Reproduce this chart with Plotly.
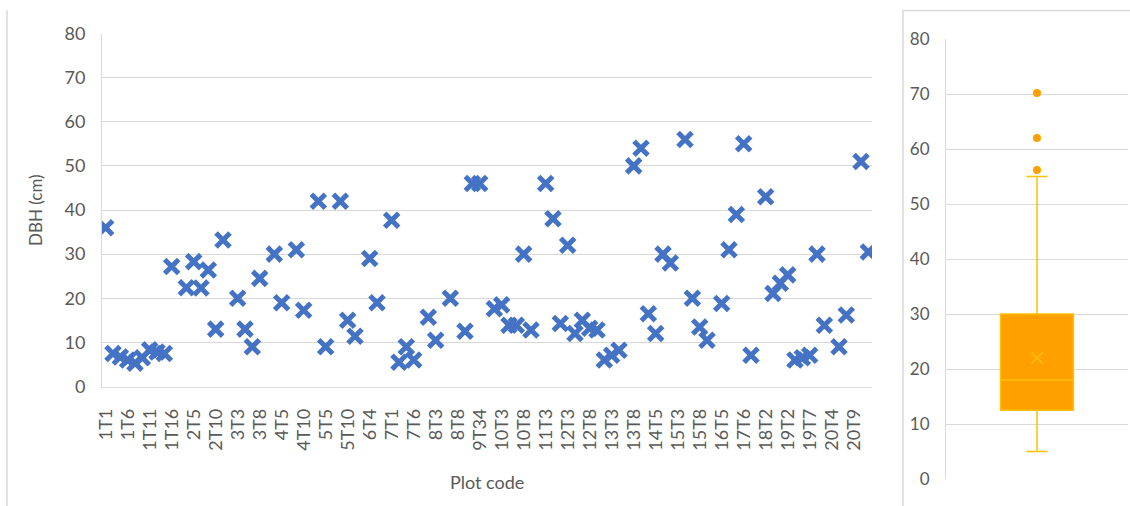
import plotly.graph_objects as go

# ---------------- data ----------------
plot_codes = [
    "1T1", "1T2", "1T4", "1T6", "1T7", "1T9", "1T11", "1T12", "1T14", "1T16",
    "2T1", "2T3", "2T5", "2T6", "2T8", "2T10", "2T12", "3T1", "3T3", "3T4",
    "3T6", "3T8", "4T1", "4T3", "4T5", "4T6", "4T8", "4T10", "5T1", "5T3",
    "5T5", "5T6", "5T8", "5T10", "6T1", "6T2", "6T4", "6T6", "6T8", "7T1",
    "7T2", "7T4", "7T6", "8T1", "8T2", "8T3", "8T4", "8T6", "8T8", "9T1",
    "9T2", "9T34", "10T1", "10T2", "10T3", "10T4", "10T6", "10T8", "11T1", "11T2",
    "11T3", "11T5", "12T1", "12T3", "12T4", "12T6", "12T8", "13T1", "13T2", "13T3",
    "13T4", "13T6", "13T8", "14T1", "14T3", "14T5", "14T7", "15T1", "15T3", "15T4",
    "15T6", "15T8", "16T1", "16T3", "16T5", "17T1", "17T4", "17T6", "17T7", "18T1",
    "18T2", "18T4", "19T1", "19T2", "19T3", "19T5", "19T7", "20T1", "20T2", "20T4",
    "20T5", "20T7", "20T9", "20T10", "20T11",
]

# DBH per plot code (None = no measurement shown)
dbh_cm = [
    36.0, 7.5, 6.7, 6.0, 5.3, 6.5, 8.3, 7.8, 7.5, 27.2,
    None, 22.4, 28.3, 22.3, 26.4, 13.0, 33.2, None, 20.0, 13.0,
    9.0, 24.5, None, 30.0, 19.0, None, 31.0, 17.3, None, 42.0,
    9.0, None, 42.0, 15.0, 11.4, None, 29.0, 19.0, None, 37.7,
    5.5, 9.0, 6.0, None, 15.7, 10.5, None, 20.0, None, 12.5,
    46.0, 46.0, None, 17.6, 18.5, 13.9, 13.9, 30.0, 12.8, None,
    46.0, 38.0, 14.3, 32.0, 12.0, 15.0, 13.2, 12.8, 6.0, 7.1,
    8.2, None, 50.0, 54.0, 16.5, 12.0, 30.0, 28.0, None, 56.0,
    20.0, 13.5, 10.5, None, 18.8, 31.0, 39.0, 55.0, 7.1, None,
    43.0, 21.1, 23.4, 25.3, 6.0, 6.5, 7.1, 30.0, 13.9, None,
    9.0, 16.2, None, 51.0, 30.5,
]

tick_labels = [
    "1T1", "1T6", "1T11", "1T16", "2T5", "2T10", "3T3", "3T8", "4T5", "4T10",
    "5T5", "5T10", "6T4", "7T1", "7T6", "8T3", "8T8", "9T34", "10T3", "10T8",
    "11T3", "12T3", "12T8", "13T3", "13T8", "14T5", "15T3", "15T8", "16T5", "17T6",
    "18T2", "19T2", "19T7", "20T4", "20T9",
]

# box-and-whisker summary (right panel)
box_q1 = 12.5
box_median = 18.0
box_q3 = 30.0
box_low = 5.0
box_high = 55.0
box_mean = 22.0
box_outliers = [56.2, 62.0, 70.2]

y_ticks = [0, 10, 20, 30, 40, 50, 60, 70, 80]

# ---------------- styling ----------------
W, H = 1130, 506
BLUE = "#4472C4"
GRID = "#D9D9D9"
TXT = "#595959"
FONT = "Lato"
ORANGE = "#FFA000"
GOLD = "#FFC000"


def px_x(v):
    return v / W


def px_y(v):
    return 1 - v / H


fig = go.Figure()

fig.add_trace(go.Scatter(
    x=plot_codes, y=dbh_cm, mode="markers",
    marker=dict(symbol="x-thin-open", size=14, color=BLUE,
                line=dict(color=BLUE, width=5)),
    xaxis="x", yaxis="y", showlegend=False, cliponaxis=True,
))

fig.add_trace(go.Box(
    x=[0], q1=[box_q1], median=[box_median], q3=[box_q3],
    lowerfence=[box_low], upperfence=[box_high],
    width=0.4, whiskerwidth=0.29,
    fillcolor=ORANGE, line=dict(color=GOLD, width=1.5),
    xaxis="x2", yaxis="y2", showlegend=False, boxpoints=False,
))

fig.add_trace(go.Scatter(
    x=[0], y=[box_mean], mode="markers",
    marker=dict(symbol="x-thin-open", size=11, color=GOLD,
                line=dict(color=GOLD, width=1.5)),
    xaxis="x2", yaxis="y2", showlegend=False,
))

fig.add_trace(go.Scatter(
    x=[0] * len(box_outliers), y=box_outliers, mode="markers",
    marker=dict(symbol="circle", size=8, color=ORANGE),
    xaxis="x2", yaxis="y2", showlegend=False,
))

fig.update_layout(
    template="none",
    width=W, height=H, autosize=False,
    margin=dict(l=0, r=0, t=0, b=0, pad=0),
    paper_bgcolor="white", plot_bgcolor="white",
    font=dict(family=FONT, color=TXT, size=18),
    xaxis=dict(
        domain=[px_x(102), px_x(872)],
        type="category", categoryorder="array", categoryarray=plot_codes,
        range=[-0.5, len(plot_codes) - 0.5],
        tickmode="array", tickvals=tick_labels, ticktext=tick_labels,
        tickangle=-90, ticks="", showgrid=False, zeroline=False,
        showline=True, linecolor=GRID, linewidth=1,
        tickfont=dict(family=FONT, size=18, color=TXT),
        ticklabelstandoff=14, automargin=False,
        anchor="y",
    ),
    yaxis=dict(
        domain=[px_y(386.5), px_y(33.5)],
        range=[0, 80], tickmode="array", tickvals=y_ticks,
        showgrid=True, gridcolor=GRID, gridwidth=1,
        showline=True, linecolor=GRID, linewidth=1,
        zeroline=False, ticks="",
        tickfont=dict(family=FONT, size=18, color=TXT),
        ticklabelstandoff=12, automargin=False,
        anchor="x",
    ),
    xaxis2=dict(
        domain=[px_x(946), px_x(1128)],
        range=[-0.5, 0.5], showticklabels=False, showgrid=False,
        zeroline=False, ticks="", showline=False, automargin=False,
        anchor="y2",
    ),
    yaxis2=dict(
        domain=[px_y(479), px_y(39)],
        range=[0, 80], tickmode="array", tickvals=y_ticks,
        showgrid=True, gridcolor=GRID, gridwidth=1,
        showline=True, linecolor=GRID, linewidth=1,
        zeroline=False, ticks="",
        tickfont=dict(family=FONT, size=17, color=TXT),
        ticklabelstandoff=12, automargin=False,
        anchor="x2",
    ),
    annotations=[
        dict(text="DBH (cm)", x=px_x(35), y=px_y(210), xref="paper", yref="paper",
             textangle=-90, showarrow=False, xanchor="center", yanchor="middle",
             font=dict(family=FONT, size=17, color=TXT)),
        dict(text="Plot code", x=px_x(487), y=px_y(482), xref="paper", yref="paper",
             showarrow=False, xanchor="center", yanchor="middle",
             font=dict(family=FONT, size=18, color=TXT)),
    ],
    shapes=[
        dict(type="line", xref="paper", yref="paper",
             x0=px_x(7), x1=px_x(7), y0=px_y(10), y1=0,
             line=dict(color=GRID, width=1.5)),
        dict(type="line", xref="paper", yref="paper",
             x0=px_x(903), x1=px_x(903), y0=px_y(10), y1=0,
             line=dict(color=GRID, width=1.5)),
        dict(type="line", xref="paper", yref="paper",
             x0=px_x(903), x1=1, y0=px_y(10.5), y1=px_y(10.5),
             line=dict(color=GRID, width=1.5)),
    ],
)

fig.write_html("out.html")
